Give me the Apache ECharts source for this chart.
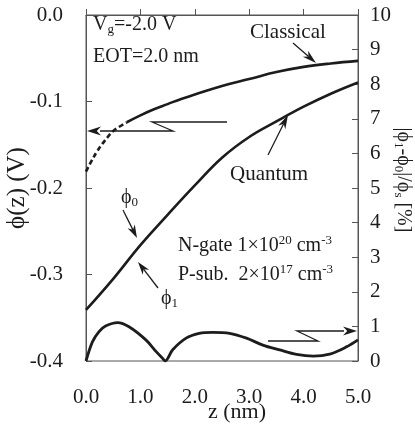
<!DOCTYPE html>
<html>
<head>
<meta charset="utf-8">
<script src="https://cdn.jsdelivr.net/npm/echarts@6/dist/echarts.min.js"></script>
<style>
html,body{margin:0;padding:0;background:#fff;}
#c{width:415px;height:430px;}
</style>
</head>
<body>
<div id="c"></div>
<script>
// ---- data ----
var xTicks = [0, 1, 2, 3, 4, 5];
var xTickLabels = ['0.0', '1.0', '2.0', '3.0', '4.0', '5.0'];
var yLeftTicks = [-0.4, -0.3, -0.2, -0.1, 0];
var yLeftTickLabels = ['-0.4', '-0.3', '-0.2', '-0.1', '0.0'];
var yRightTicks = [0,1,2,3,4,5,6,7,8,9,10];
var yRightTickLabels = ['0','1','2','3','4','5','6','7','8','9','10'];

var classicalZ   = [0, 0.1, 0.2, 0.3, 0.4, 0.5, 0.75, 1.0, 1.25, 1.5, 1.75, 2.0, 2.5, 3.0, 3.5, 4.0, 4.5, 5.0];
var classicalPhi = [-0.181, -0.169, -0.158, -0.149, -0.141, -0.134, -0.124, -0.116, -0.109, -0.103, -0.097, -0.092, -0.082, -0.074, -0.066, -0.060, -0.056, -0.053];

var quantumZ   = [0, 0.5, 1.0, 1.5, 2.0, 2.5, 3.0, 3.5, 4.0, 4.5, 5.0];
var quantumPhi = [-0.341, -0.305, -0.266, -0.231, -0.197, -0.165, -0.141, -0.123, -0.106, -0.091, -0.078];

var errorZ   = [0, 0.12, 0.24, 0.36, 0.58, 0.79, 1.10, 1.29, 1.40, 1.46, 1.52, 1.59, 1.84, 2.08, 2.33, 2.64, 2.95, 3.25, 3.56, 3.87, 4.18, 4.48, 4.79, 5.0];
var errorPct = [0, 0.56, 0.85, 1.01, 1.11, 0.99, 0.61, 0.27, 0.09, 0.0, 0.12, 0.32, 0.66, 0.80, 0.83, 0.80, 0.66, 0.46, 0.32, 0.19, 0.14, 0.20, 0.41, 0.61];

var classicalDashedEnd = 0.75;

function pairs(xs, ys, lo, hi) {
  var out = [];
  for (var i = 0; i < xs.length; i++) {
    if (xs[i] >= lo - 1e-9 && xs[i] <= hi + 1e-9) out.push([xs[i], ys[i]]);
  }
  return out;
}
function lookup(ticks, labels) {
  return function (v) {
    for (var i = 0; i < ticks.length; i++) if (Math.abs(ticks[i] - v) < 1e-6) return labels[i];
    return '';
  };
}

var FONT = "'Liberation Serif','Times New Roman',serif";
var INK = '#1c1c1c';
var chart = echarts.init(document.getElementById('c'), null, {renderer: 'canvas'});

function arrow(x1, y1, x2, y2, headLen, headW) {
  var dx = x2 - x1, dy = y2 - y1, L = Math.sqrt(dx*dx + dy*dy);
  var ux = dx / L, uy = dy / L;
  var bx = x2 - ux * headLen, by = y2 - uy * headLen;
  var px = -uy * headW, py = ux * headW;
  var nx = x2 - ux * headLen * 0.7, ny = y2 - uy * headLen * 0.7;
  return [
    {type: 'polyline', shape: {points: [[x1, y1], [nx, ny]]}, style: {stroke: INK, lineWidth: 1.3, fill: null}, silent: true},
    {type: 'polygon', shape: {points: [[x2, y2], [bx + px, by + py], [nx, ny], [bx - px, by - py]]}, style: {fill: INK}, silent: true}
  ];
}
function zig(points, head) {
  var els = [{type: 'polyline', shape: {points: points}, style: {stroke: INK, lineWidth: 1.3, fill: null}, silent: true}];
  var p = points[points.length - 1];
  return els.concat(arrow(p[0], p[1], head[0], head[1], 14, 4.5).slice(1));
}
function txt(x, y, text, size, align, extra) {
  var o = {type: 'text', x: x, y: y, silent: true,
    style: {text: text, font: size + 'px ' + FONT, fill: INK,
      textAlign: align || 'left', textVerticalAlign: 'middle', align: align || 'left', verticalAlign: 'middle'}};
  if (extra) { for (var k in extra) o.style[k] = extra[k]; }
  return o;
}
var subS = {fontSize: 13, fontFamily: FONT, fill: INK, padding: [9, 0, 0, 0]};
var supS = {fontSize: 13, fontFamily: FONT, fill: INK, padding: [0, 0, 11, 0]};
var baseS = {fontSize: 20, fontFamily: FONT, fill: INK};

var graphics = [];
graphics.push(txt(93, 25, '{b|V}{s|g}{b|=-2.0 V}', 20, 'left', {rich: {b: baseS, s: subS}}));
graphics.push(txt(93, 57, 'EOT=2.0 nm', 20));
graphics.push(txt(250, 32, 'Classical', 21));
graphics.push(txt(230, 174, 'Quantum', 21));
graphics.push(txt(121, 198, '{b|ϕ}{s|0}', 20, 'left', {rich: {b: baseS, s: subS}}));
graphics.push(txt(161, 299, '{b|ϕ}{s|1}', 20, 'left', {rich: {b: baseS, s: subS}}));
graphics.push(txt(178, 246, '{b|N-gate 1×10}{p|20}{b| cm}{p|-3}', 20, 'left', {rich: {b: baseS, p: supS}}));
graphics.push(txt(178, 275, '{b|P-sub.  2×10}{p|17}{b| cm}{p|-3}', 20, 'left', {rich: {b: baseS, p: supS}}));
graphics.push(txt(403, 180, '{b||ϕ}{s|1}{b|-ϕ}{s|0}{b||/ϕ}{s|s}{b| [%]}', 20, 'center',
  {rich: {b: baseS, s: subS}}));
graphics[graphics.length - 1].rotation = -Math.PI / 2;

graphics = graphics.concat(arrow(293, 43, 316, 63, 14, 4));
graphics = graphics.concat(arrow(268, 155, 288, 115, 14, 4));
graphics = graphics.concat(arrow(123, 210, 137, 238, 13, 4));
graphics = graphics.concat(arrow(158, 288, 138, 262, 13, 4));
graphics = graphics.concat(zig([[227, 122], [152, 122], [173, 131], [100, 131]], [87, 131]));
graphics = graphics.concat(zig([[268, 341], [318, 341], [297, 331], [344, 331]], [357, 331]));

var option = {
  backgroundColor: '#ffffff',
  animation: false,
  grid: {left: 86, right: 57, top: 15, bottom: 69, show: true, borderColor: '#555', borderWidth: 1,
         containLabel: false, outerBoundsMode: 'none'},
  xAxis: {
    type: 'value', min: 0, max: 5, interval: 1,
    name: 'z (nm)', nameLocation: 'middle', nameGap: 40, nameMoveOverlap: false,
    nameTextStyle: {fontFamily: FONT, fontSize: 22, color: INK, padding: [0, 0, 0, 30]},
    axisLine: {show: true, lineStyle: {color: '#555', width: 1}},
    axisTick: {show: true, inside: true, length: 6, lineStyle: {color: '#555'}},
    axisLabel: {margin: 26, fontFamily: FONT, fontSize: 21, color: INK, formatter: lookup(xTicks, xTickLabels)},
    splitLine: {show: false}
  },
  yAxis: [{
    type: 'value', min: -0.4, max: 0, interval: 0.1, position: 'left',
    name: 'ϕ(z) (V)', nameLocation: 'middle', nameRotate: 90, nameGap: 56, nameMoveOverlap: false,
    nameTextStyle: {fontFamily: FONT, fontSize: 25, color: INK, padding: [0, 0, 0, 0]},
    axisLine: {show: true, lineStyle: {color: '#555', width: 1}},
    axisTick: {show: true, inside: true, length: 6, lineStyle: {color: '#555'}},
    axisLabel: {margin: 23, fontFamily: FONT, fontSize: 21, color: INK, formatter: lookup(yLeftTicks, yLeftTickLabels)},
    splitLine: {show: false}
  }, {
    type: 'value', min: 0, max: 10, interval: 1, position: 'right',
    axisLine: {show: true, lineStyle: {color: '#555', width: 1}},
    axisTick: {show: true, inside: true, length: 6, lineStyle: {color: '#555'}},
    axisLabel: {margin: 12, fontFamily: FONT, fontSize: 21, color: INK, formatter: lookup(yRightTicks, yRightTickLabels)},
    splitLine: {show: false}
  }],
  series: [
    {name: 'Classical (dashed)', type: 'line', yAxisIndex: 0, smooth: 0.4, showSymbol: false,
     data: pairs(classicalZ, classicalPhi, 0, classicalDashedEnd),
     lineStyle: {color: INK, width: 2.6, type: [5, 3]}},
    {name: 'Classical', type: 'line', yAxisIndex: 0, smooth: 0.4, showSymbol: false,
     data: pairs(classicalZ, classicalPhi, classicalDashedEnd, 5),
     lineStyle: {color: INK, width: 2.6}},
    {name: 'Quantum', type: 'line', yAxisIndex: 0, smooth: 0.4, showSymbol: false,
     data: pairs(quantumZ, quantumPhi, 0, 5),
     lineStyle: {color: INK, width: 2.6}},
    {name: 'Error', type: 'line', yAxisIndex: 1, smooth: 0.35, showSymbol: false,
     data: pairs(errorZ, errorPct, 0, 5),
     lineStyle: {color: INK, width: 2.8}}
  ],
  graphic: graphics
};
chart.setOption(option);
</script>
</body>
</html>
